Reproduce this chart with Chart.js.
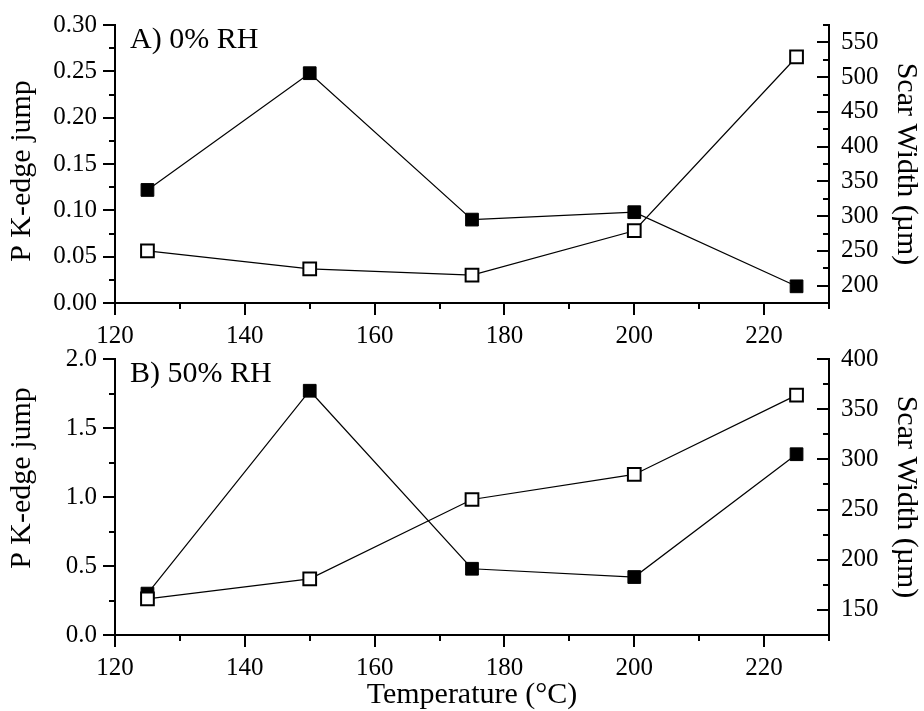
<!DOCTYPE html>
<html>
<head>
<meta charset="utf-8">
<script src="https://cdn.jsdelivr.net/npm/chart.js@4"></script>
<style>
  body { margin: 0; background: #fff; }
  .wrap { position: relative; width: 924px; height: 711px; }
  #chartA { position: absolute; left: 0; top: 0; }
  #chartB { position: absolute; left: 0; top: 330px; }
</style>
</head>
<body>
<div class="wrap">
  <canvas id="chartB" width="924" height="381"></canvas>
  <canvas id="chartA" width="924" height="352"></canvas>
</div>
<script>
// temperatures (°C)
const temps = [125, 150, 175, 200, 225];

// A) 0% RH
const jumpA = [0.122, 0.248, 0.090, 0.098, 0.018];
const scarA = [250, 224, 215, 279, 529];

// B) 50% RH
const jumpB = [0.30, 1.77, 0.48, 0.42, 1.31];
const scarB = [161, 181, 260, 285, 364];

// tick labels
const xTicks = [120, 140, 160, 180, 200, 220];
const jumpTicksA = [0, 0.05, 0.10, 0.15, 0.20, 0.25, 0.30];
const scarTicksA = [200, 250, 300, 350, 400, 450, 500, 550];
const jumpTicksB = [0, 0.5, 1.0, 1.5, 2.0];
const scarTicksB = [150, 200, 250, 300, 350, 400];

const FONT = "'Liberation Serif', 'Times New Roman', serif";
Chart.defaults.color = "#000";
Chart.defaults.font.family = FONT;

// draws major + minor tick marks like Origin does
const tickMarks = {
  id: "tickMarks",
  afterDraw(chart) {
    const ctx = chart.ctx;
    ctx.save();
    ctx.strokeStyle = "#000";
    ctx.lineWidth = 2;
    Object.values(chart.scales).forEach((scale) => {
      const majors = scale.ticks.map((t) => t.value);
      const step = majors[1] - majors[0];
      const minors = [];
      for (let v = majors[0] - step / 2; v <= scale.max + 1e-9; v += step) {
        if (v >= scale.min - 1e-9) minors.push(v);
      }
      const mark = (v, len) => {
        const p = Math.round(scale.getPixelForValue(v));
        ctx.beginPath();
        if (scale.position === "bottom") {
          ctx.moveTo(p, scale.top);
          ctx.lineTo(p, scale.top + len);
        } else if (scale.position === "left") {
          ctx.moveTo(scale.right, p);
          ctx.lineTo(scale.right - len, p);
        } else {
          // right axis ticks point inward
          ctx.moveTo(scale.left, p);
          ctx.lineTo(scale.left - len, p);
        }
        ctx.stroke();
      };
      majors.forEach((v) => mark(v, 12));
      minors.forEach((v) => mark(v, 6));
    });
    ctx.restore();
  },
};

// panel label inside the plot + left axis title (placed by hand, as in the figure)
const panelText = {
  id: "panelText",
  afterDraw(chart, args, opts) {
    const ctx = chart.ctx;
    const area = chart.chartArea;
    ctx.save();
    ctx.font = "30px " + FONT;
    ctx.fillStyle = "#000";
    ctx.textBaseline = "alphabetic";
    ctx.fillText(opts.text, area.left + 15, area.top + 23);

    ctx.translate(22, (area.top + area.bottom) / 2 + opts.titleShift);
    ctx.rotate(-Math.PI / 2);
    ctx.textAlign = "center";
    ctx.textBaseline = "middle";
    ctx.fillText("P K-edge jump", 0, 0);
    ctx.restore();
  },
};

function makeChart(id, cfg) {
  const fixWidth = (w) => (scale) => {
    scale.width = w;
    scale.paddingTop = 0;
    scale.paddingBottom = 0;
  };
  const setTicks = (vals) => (scale) => {
    scale.ticks = vals.map((v) => ({ value: v }));
  };

  return new Chart(document.getElementById(id), {
    type: "line",
    data: {
      datasets: [
        {
          label: "Scar Width",
          data: temps.map((t, i) => ({ x: t, y: cfg.scar[i] })),
          yAxisID: "y1",
          order: 0,
          borderColor: "#000",
          borderWidth: 1.2,
          pointStyle: "rect",
          pointRadius: 9,
          pointBackgroundColor: "#fff",
          pointBorderColor: "#000",
          pointBorderWidth: 2,
        },
        {
          label: "P K-edge jump",
          data: temps.map((t, i) => ({ x: t, y: cfg.jump[i] })),
          yAxisID: "y",
          order: 1,
          borderColor: "#000",
          borderWidth: 1.2,
          pointStyle: "rect",
          pointRadius: 9,
          pointBackgroundColor: "#000",
          pointBorderColor: "#000",
          pointBorderWidth: 1,
        },
      ],
    },
    options: {
      responsive: false,
      animation: false,
      layout: { padding: { top: cfg.padTop, left: 0, right: 0, bottom: 0 } },
      plugins: {
        legend: { display: false },
        tooltip: { enabled: false },
        panelText: { text: cfg.label, titleShift: cfg.titleShift },
      },
      scales: {
        x: {
          type: "linear",
          min: 120,
          max: 230,
          afterBuildTicks: setTicks(xTicks),
          afterFit: (scale) => {
            scale.height = cfg.xHeight;
            scale.paddingLeft = 0;
            scale.paddingRight = 0;
          },
          grid: { display: false, drawTicks: false },
          border: { display: true, color: "#000", width: 2 },
          ticks: { font: { size: 25 }, padding: 18, maxRotation: 0 },
          title: {
            display: cfg.xTitle,
            text: "Temperature (°C)",
            font: { size: 30 },
            padding: { top: 0, bottom: -2 },
          },
        },
        y: {
          position: "left",
          min: cfg.jumpMin,
          max: cfg.jumpMax,
          afterBuildTicks: setTicks(cfg.jumpTicks),
          afterFit: fixWidth(115),
          grid: { display: false, drawTicks: false },
          border: { display: true, color: "#000", width: 2 },
          ticks: {
            font: { size: 25 },
            padding: 18,
            callback: (v) => v.toFixed(cfg.jumpDigits),
          },
        },
        y1: {
          position: "right",
          min: cfg.scarMin,
          max: cfg.scarMax,
          afterBuildTicks: setTicks(cfg.scarTicks),
          afterFit: fixWidth(95),
          grid: { display: false, drawTicks: false },
          border: { display: true, color: "#000", width: 2 },
          ticks: { font: { size: 25 }, padding: 12 },
          title: {
            display: true,
            text: "Scar Width (µm)",
            font: { size: 30 },
            padding: { top: 0, bottom: 0 },
          },
        },
      },
    },
    plugins: [tickMarks, panelText],
  });
}

makeChart("chartA", {
  label: "A) 0% RH",
  jump: jumpA,
  scar: scarA,
  jumpMin: 0,
  jumpMax: 0.30,
  jumpTicks: jumpTicksA,
  jumpDigits: 2,
  scarMin: 175,
  scarMax: 575,
  scarTicks: scarTicksA,
  padTop: 25,
  xHeight: 49,
  xTitle: false,
  titleShift: 7,
});

makeChart("chartB", {
  label: "B) 50% RH",
  jump: jumpB,
  scar: scarB,
  jumpMin: 0,
  jumpMax: 2.0,
  jumpTicks: jumpTicksB,
  jumpDigits: 1,
  scarMin: 125,
  scarMax: 400,
  scarTicks: scarTicksB,
  padTop: 29,
  xHeight: 76,
  xTitle: true,
  titleShift: -19,
});
</script>
</body>
</html>
